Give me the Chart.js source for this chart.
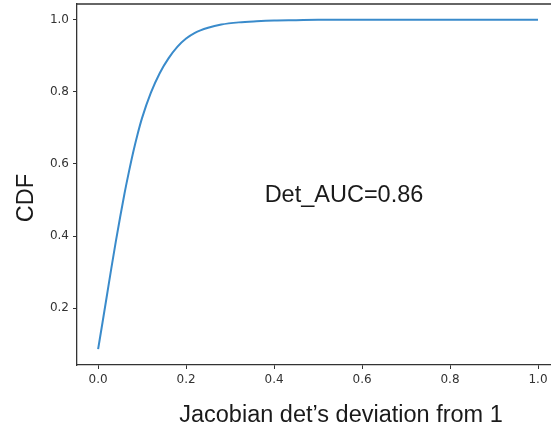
<!DOCTYPE html>
<html>
<head>
<meta charset="utf-8">
<script src="https://cdn.jsdelivr.net/npm/chart.js@4/dist/chart.umd.min.js"></script>
<style>
  html, body { margin: 0; padding: 0; background: #fff; overflow: hidden; }
  #wrap { width: 551px; height: 427px; overflow: hidden; position: relative; }
  canvas { display: block; }
</style>
</head>
<body>
<div id="wrap"><canvas id="cdf" width="570" height="427"></canvas></div>
<script>
  // deviation values (x) and CDF
  var deviation = [0, 0.01, 0.02, 0.03, 0.04, 0.05, 0.06, 0.07, 0.08, 0.09, 0.10,
    0.12, 0.14, 0.16, 0.18, 0.20, 0.22, 0.25, 0.28, 0.32, 0.36, 0.40, 0.45,
    0.5, 0.6, 0.7, 0.8, 0.9, 1.0];
  var cdf = [0.086, 0.160, 0.235, 0.310, 0.383, 0.452, 0.518, 0.578, 0.634, 0.684, 0.728,
    0.798, 0.852, 0.893, 0.925, 0.948, 0.964, 0.978, 0.987, 0.993, 0.996, 0.998, 0.999,
    1.0, 1.0, 1.0, 1.0, 1.0, 1.0];
  var xTicks = [0.0, 0.2, 0.4, 0.6, 0.8, 1.0];
  var yTicks = [0.2, 0.4, 0.6, 0.8, 1.0];
  var annotation = 'Det_AUC=0.86';
  var xTitle = 'Jacobian det\u2019s deviation from 1';
  var yTitle = 'CDF';

  var points = deviation.map(function (x, i) { return { x: x, y: cdf[i] }; });

  var tickFont = { family: 'DejaVu Sans', size: 12 };
  var titleFont = '23.5px "Liberation Sans", Arial, sans-serif';

  function noEdgePadding(s) {
    s.paddingTop = 0;
    s.paddingBottom = 0;
    s.paddingLeft = 0;
    s.paddingRight = 0;
  }

  var framePlugin = {
    id: 'frame',
    afterDraw: function (chart) {
      var ctx = chart.ctx;
      var a = chart.chartArea;
      ctx.save();
      // top spine; the right one sits past the window edge
      ctx.strokeStyle = '#333';
      ctx.lineWidth = 1.3;
      ctx.beginPath();
      ctx.moveTo(a.left, a.top);
      ctx.lineTo(a.right, a.top);
      ctx.stroke();

      ctx.fillStyle = '#1a1a1a';
      ctx.font = titleFont;
      ctx.textAlign = 'center';
      ctx.textBaseline = 'alphabetic';
      ctx.fillText(annotation, 344, 202);
      ctx.fillText(xTitle, 341, 422);

      ctx.translate(33, 198);
      ctx.rotate(-Math.PI / 2);
      ctx.fillText(yTitle, 0, 0);
      ctx.restore();
    }
  };

  new Chart(document.getElementById('cdf'), {
    type: 'scatter',
    data: {
      datasets: [{
        data: points,
        showLine: true,
        borderColor: '#3a8bcb',
        borderWidth: 2,
        pointRadius: 0,
        cubicInterpolationMode: 'monotone',
        fill: false
      }]
    },
    options: {
      responsive: false,
      animation: false,
      layout: { padding: { left: 0, top: 4, right: 10, bottom: 0 } },
      plugins: { legend: { display: false }, tooltip: { enabled: false } },
      scales: {
        x: {
          type: 'linear',
          min: -0.048,
          max: 1.05,
          afterBuildTicks: function (s) { s.ticks = xTicks.map(function (v) { return { value: v }; }); },
          afterFit: function (s) { s.height = 62; noEdgePadding(s); },
          grid: { drawOnChartArea: false, tickLength: 4, color: '#333', tickWidth: 1 },
          border: { color: '#333', width: 1.3 },
          ticks: {
            color: '#333', font: tickFont, padding: 4, maxRotation: 0,
            callback: function (v) { return v.toFixed(1); }
          }
        },
        y: {
          type: 'linear',
          min: 0.042,
          max: 1.044,
          afterBuildTicks: function (s) { s.ticks = yTicks.map(function (v) { return { value: v }; }); },
          afterFit: function (s) { s.width = 77; noEdgePadding(s); },
          grid: { drawOnChartArea: false, tickLength: 4, color: '#333', tickWidth: 1 },
          border: { color: '#333', width: 1.3 },
          ticks: {
            color: '#333', font: tickFont, padding: 4,
            callback: function (v) { return v.toFixed(1); }
          }
        }
      }
    },
    plugins: [framePlugin]
  });
</script>
</body>
</html>
